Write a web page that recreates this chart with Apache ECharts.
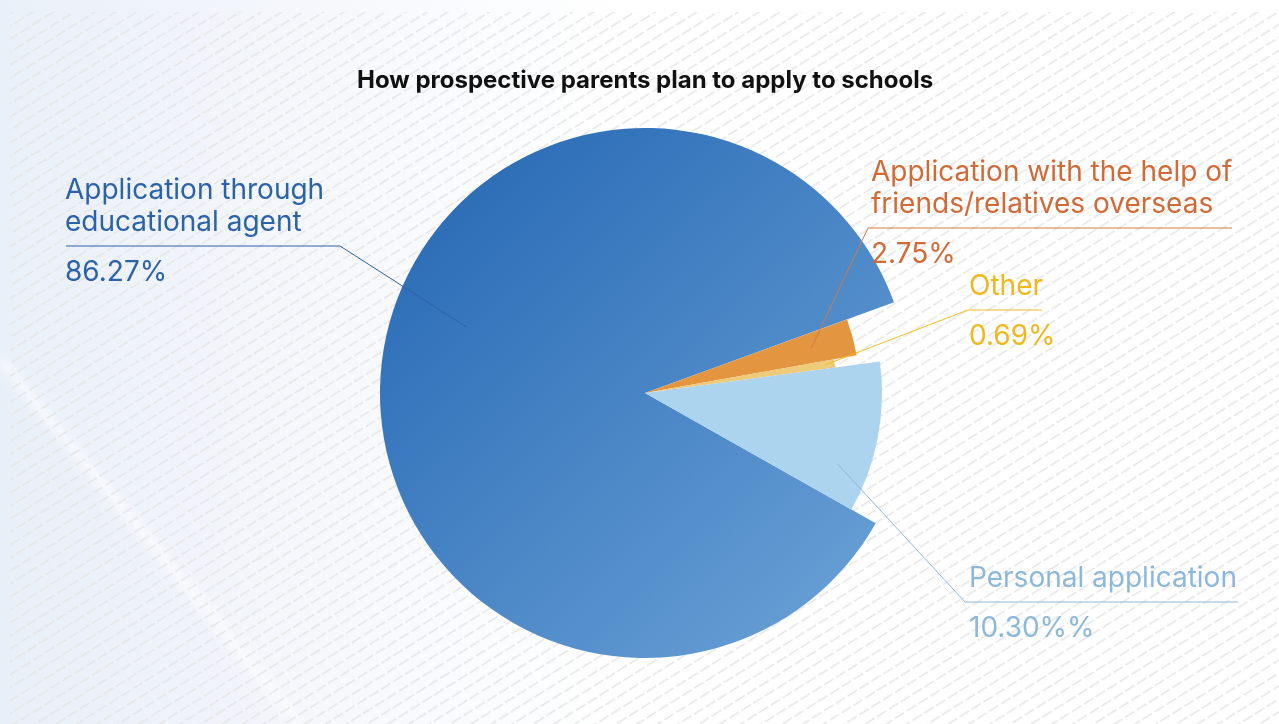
<!DOCTYPE html>
<html>
<head>
<meta charset="utf-8">
<title>How prospective parents plan to apply to schools</title>
<script src="https://cdn.jsdelivr.net/npm/echarts@6/dist/echarts.min.js"></script>
<style>
  html, body { margin: 0; padding: 0; }
  #wrap { position: relative; width: 1279px; height: 724px; overflow: hidden; background: #ffffff; }
  #bg { position: absolute; left: 0; top: 0; width: 1279px; height: 724px; }
  #chart { position: absolute; left: 0; top: 0; width: 1279px; height: 724px; }
</style>
</head>
<body>
<div id="wrap">
  <div id="bg"></div>
  <div id="chart"></div>
</div>
<script>
// ---- data ----
const categories = [
  'Application with the help of\nfriends/relatives overseas',
  'Other',
  'Personal application',
  'Application through\neducational agent'
];
const shares = [2.75, 0.69, 10.30, 86.27];
const shareLabels = ['2.75%', '0.69%', '10.30%%', '86.27%'];

// ---- styling / layout ----
const CX = 645, CY = 393, START = 20;
const sliceRadius = [215, 192, 237, 265];
const sliceColors = [
  '#e3953f',
  '#eecb7b',
  '#acd4ef',
  { type: 'linear', x: 0, y: 0, x2: 1, y2: 1,
    colorStops: [{ offset: 0, color: '#2265b2' }, { offset: 1, color: '#6ea4d8' }] }
];
const textColors = ['#d06a36', '#f0b81c', '#8cb8da', '#2c62a6'];
const lineColors = ['#d47a45', '#f0bd22', '#8fb9d9', '#2c62a6'];
// where each label block sits and where its underline runs
const labelBoxes = [
  { x: 871, y: 157, rows: 2, from: 868, to: 1232, side: 'right', anchorFrac: 0.5, anchorR: 172 },
  { x: 969, y: 271, rows: 1, from: 968, to: 1042, side: 'right', anchorFrac: 0.5, anchorR: 182 },
  { x: 969, y: 563, rows: 1, from: 965, to: 1238, side: 'right', anchorFrac: 0.75, anchorR: 205 },
  { x: 65,  y: 175, rows: 2, from: 66,  to: 340,  side: 'left',  anchorFrac: 0.55, anchorR: 190 }
];
const LINE_H = 32;
const FONT = 28;

// background: soft blue wash, diagonal panel, and dashed hatching
(function drawBackground() {
  const svg =
    "<svg xmlns='http://www.w3.org/2000/svg' width='1279' height='724'>" +
    "<defs>" +
    "<linearGradient id='wash' x1='0' y1='0' x2='1' y2='0'>" +
    "<stop offset='0' stop-color='#eaf0f9'/><stop offset='0.2' stop-color='#f3f6fb'/>" +
    "<stop offset='0.38' stop-color='#fbfcfe'/><stop offset='0.5' stop-color='#ffffff'/></linearGradient>" +
    "<linearGradient id='panel' x1='0' y1='0' x2='1' y2='0'>" +
    "<stop offset='0' stop-color='#e9eff8'/><stop offset='1' stop-color='#f3f6fb'/></linearGradient>" +
    "<filter id='soft'><feGaussianBlur stdDeviation='5'/></filter>" +
    "<pattern id='hatch' width='14' height='11' patternUnits='userSpaceOnUse' patternTransform='rotate(-32)'>" +
    "<line x1='0' y1='5.5' x2='11' y2='5.5' stroke='#e4e4e4' stroke-width='1.5'/></pattern>" +
    "</defs>" +
    "<rect width='1279' height='724' fill='url(#wash)'/>" +
    "<polygon points='0,362 0,724 300,724' fill='url(#panel)'/>" +
    "<line x1='0' y1='360' x2='300' y2='724' stroke='#ffffff' stroke-width='8' stroke-opacity='0.7' filter='url(#soft)'/>" +
    "<rect x='10' y='12' width='1269' height='712' fill='url(#hatch)'/>" +
    "</svg>";
  const bg = document.getElementById('bg');
  bg.style.backgroundImage = 'url("data:image/svg+xml,' + encodeURIComponent(svg) + '")';
})();

const total = shares.reduce((a, b) => a + b, 0);

// point inside slice i, at a fraction of its angular span and a given radius
function anchorPoint(i) {
  let before = 0;
  for (let k = 0; k < i; k++) before += shares[k];
  const frac = labelBoxes[i].anchorFrac;
  const deg = START - (before + frac * shares[i]) / total * 360;
  const rad = deg * Math.PI / 180;
  const r = labelBoxes[i].anchorR;
  return [CX + r * Math.cos(rad), CY - r * Math.sin(rad)];
}

// leader line: from inside the slice to the underline of its label
const leaderLines = categories.map((_, i) => {
  const b = labelBoxes[i];
  const uy = b.y + b.rows * LINE_H + 7;
  const a = anchorPoint(i);
  const elbow = b.side === 'right' ? [b.from, uy] : [b.to, uy];
  const end = b.side === 'right' ? [b.to, uy] : [b.from, uy];
  return {
    type: 'polyline',
    z: 10,
    silent: true,
    shape: { points: [a, elbow, end] },
    style: { stroke: lineColors[i], lineWidth: 1, fill: null }
  };
});

// one pie series per slice so each slice can have its own radius;
// all series share the same data, so every slice angle comes from the shares
const series = categories.map((_, i) => ({
  type: 'pie',
  center: [CX, CY],
  radius: [0, sliceRadius[i]],
  startAngle: START,
  clockwise: true,
  silent: true,
  animation: false,
  avoidLabelOverlap: false,
  z: i === 3 ? 1 : 2,
  itemStyle: { borderWidth: 0 },
  emphasis: { disabled: true },
  data: shares.map((v, j) => ({
    value: v,
    name: categories[j],
    itemStyle: { color: j === i ? sliceColors[i] : 'rgba(0,0,0,0)', borderWidth: 0 },
    label: { show: j === i },
    labelLine: { show: false }
  })),
  label: {
    position: 'outside',
    formatter: (p) => '{n|' + categories[p.dataIndex] + '}\n{g| }\n{p|' + shareLabels[p.dataIndex] + '}',
    rich: {
      n: { fontFamily: 'Inter', fontSize: FONT, lineHeight: LINE_H, color: textColors[i], align: 'left' },
      g: { fontSize: 10, lineHeight: 18 },
      p: { fontFamily: 'Inter', fontSize: FONT, lineHeight: LINE_H, color: textColors[i], align: 'left' }
    }
  },
  labelLine: { show: false },
  labelLayout: (params) => {
    const idx = params.dataIndex;
    if (idx !== i) return {};
    const b = labelBoxes[idx];
    return { x: b.x, y: b.y, align: 'left', verticalAlign: 'top' };
  }
}));

const chart = echarts.init(document.getElementById('chart'), null, { renderer: 'canvas' });
chart.setOption({
  backgroundColor: 'transparent',
  title: {
    text: 'How prospective parents plan to apply to schools',
    left: 357,
    top: 69,
    padding: 0,
    textStyle: { fontFamily: 'Inter', fontWeight: 'bold', fontSize: 24, color: '#111111' }
  },
  graphic: leaderLines,
  series: series
});
</script>
</body>
</html>
